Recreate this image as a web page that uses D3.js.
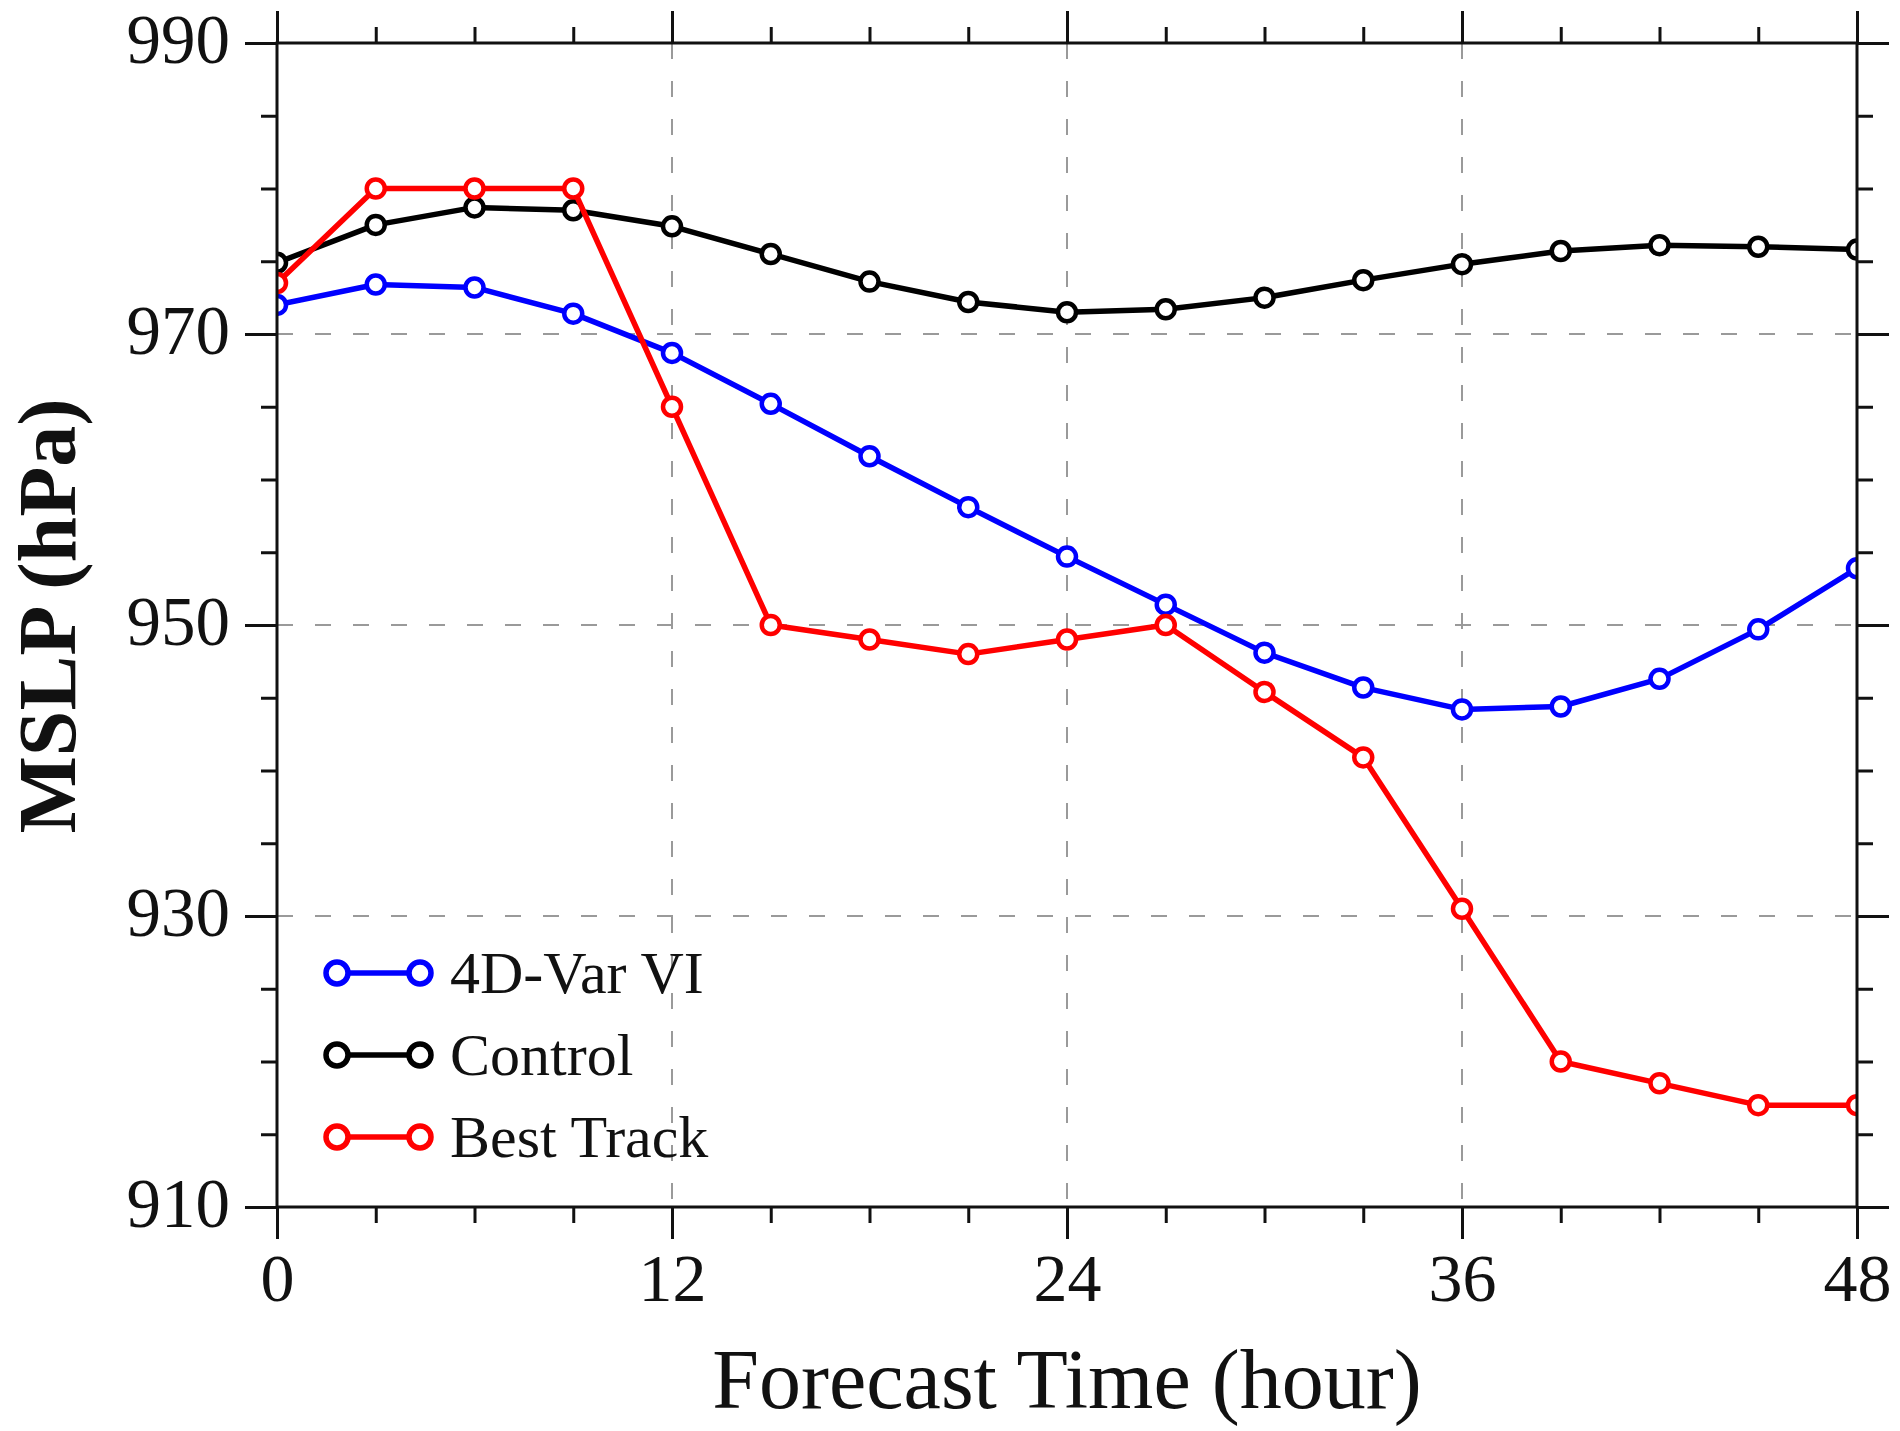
<!DOCTYPE html>
<html>
<head>
<meta charset="utf-8">
<script src="https://cdn.jsdelivr.net/npm/d3@7"></script>
<style>
    html, body { margin: 0; padding: 0; background: #fff; }
    svg { display: block; }
    text { font-family: "Liberation Serif", "Times New Roman", serif; fill: #111; }
</style>
</head>
<body>
<svg id="chart"></svg>
<script>
/**
 * Data.
 */
const hours = [0, 3, 6, 9, 12, 15, 18, 21, 24, 27, 30, 33, 36, 39, 42, 45, 48];

const vi4dvar = [972.0, 973.4, 973.2, 971.4, 968.7, 965.2, 961.6, 958.1, 954.7, 951.4, 948.1, 945.7, 944.2, 944.4, 946.3, 949.7, 953.9];
const control = [974.9, 977.5, 978.7, 978.5, 977.4, 975.5, 973.6, 972.2, 971.5, 971.7, 972.5, 973.7, 974.8, 975.7, 976.1, 976.0, 975.8];
const bestTrack = [973.5, 980, 980, 980, 965, 950, 949, 948, 949, 950, 945.4, 940.9, 930.5, 920, 918.5, 917, 917];

const seriesNames = ['4D-Var VI', 'Control', 'Best Track'];
const seriesColors = ['#0000ff', '#000000', '#ff0000'];

const xTicks = [0, 12, 24, 36, 48];
const yTicks = [910, 930, 950, 970, 990];

/**
 * Visual configs.
 */
const visWidth = 1900, visHeight = 1431;
const margin = { top: 43, right: 43, bottom: 224, left: 277 };
const width = visWidth - margin.left - margin.right,
    height = visHeight - margin.top - margin.bottom;

const svg = d3.select('#chart')
    .attr('width', visWidth)
    .attr('height', visHeight);

const g = svg.append('g')
    .attr('transform', 'translate(' + margin.left + ',' + margin.top + ')');

/**
 * Scales.
 */
const xScale = d3.scaleLinear().domain([0, 48]).range([0, width]);
const yScale = d3.scaleLinear().domain([910, 990]).range([height, 0]);

const series = [vi4dvar, control, bestTrack].map((values, i) => ({
    name: seriesNames[i],
    color: seriesColors[i],
    points: values.map((v, j) => ({ time: hours[j], value: v }))
}));

/**
 * Grid.
 */
const grid = g.append('g').attr('class', 'grid')
    .attr('stroke', '#9a9a9a')
    .attr('stroke-width', 2)
    .attr('stroke-dasharray', '16,22');

grid.selectAll('line.gx')
    .data(xTicks.slice(1, -1))
    .join('line')
    .attr('class', 'gx')
    .attr('x1', d => xScale(d)).attr('x2', d => xScale(d))
    .attr('y1', 0).attr('y2', height);

grid.selectAll('line.gy')
    .data(yTicks.slice(1, -1))
    .join('line')
    .attr('class', 'gy')
    .attr('x1', 0).attr('x2', width)
    .attr('y1', d => yScale(d)).attr('y2', d => yScale(d));

/**
 * Axes: major and minor ticks, outward on all four sides.
 */
const minorX = d3.range(0, 49, 3).filter(d => d % 12 !== 0);
const minorY = d3.range(910, 991, 5).filter(d => (d - 910) % 20 !== 0);

function styleAxis(sel) {
    sel.select('.domain').remove();
    sel.selectAll('line').attr('stroke', '#111').attr('stroke-width', 3);
    sel.selectAll('text').attr('font-size', 68).attr('fill', '#111')
        .attr('font-family', '"Liberation Serif", "Times New Roman", serif');
}

g.append('g')
    .attr('transform', 'translate(0,' + height + ')')
    .call(d3.axisBottom(xScale).tickValues(xTicks).tickSize(32).tickPadding(14).tickFormat(d3.format('d')))
    .call(styleAxis);
g.append('g')
    .attr('transform', 'translate(0,' + height + ')')
    .call(d3.axisBottom(xScale).tickValues(minorX).tickSize(16).tickFormat(''))
    .call(styleAxis);
g.append('g')
    .call(d3.axisTop(xScale).tickValues(xTicks).tickSize(32).tickFormat(''))
    .call(styleAxis);
g.append('g')
    .call(d3.axisTop(xScale).tickValues(minorX).tickSize(16).tickFormat(''))
    .call(styleAxis);

g.append('g')
    .call(d3.axisLeft(yScale).tickValues(yTicks).tickSize(32).tickPadding(15).tickFormat(d3.format('d')))
    .call(styleAxis)
    .selectAll('text').attr('font-size', 69).attr('dy', '0.28em');
g.append('g')
    .call(d3.axisLeft(yScale).tickValues(minorY).tickSize(16).tickFormat(''))
    .call(styleAxis);
g.append('g')
    .attr('transform', 'translate(' + width + ',0)')
    .call(d3.axisRight(yScale).tickValues(yTicks).tickSize(32).tickFormat(''))
    .call(styleAxis);
g.append('g')
    .attr('transform', 'translate(' + width + ',0)')
    .call(d3.axisRight(yScale).tickValues(minorY).tickSize(16).tickFormat(''))
    .call(styleAxis);

/**
 * Series lines and markers, clipped to the plot frame.
 */
g.append('clipPath').attr('id', 'plot-clip')
    .append('rect').attr('width', width).attr('height', height);

const line = d3.line()
    .x(d => xScale(d.time))
    .y(d => yScale(d.value));

const items = g.append('g').attr('clip-path', 'url(#plot-clip)');

const seriesG = items.selectAll('g.series')
    .data(series)
    .join('g')
    .attr('class', 'series');

seriesG.append('path')
    .attr('fill', 'none')
    .attr('stroke', d => d.color)
    .attr('stroke-width', 5.5)
    .attr('stroke-linejoin', 'round')
    .attr('d', d => line(d.points));

seriesG.selectAll('circle')
    .data(d => d.points.map(p => ({ p: p, color: d.color })))
    .join('circle')
    .attr('cx', d => xScale(d.p.time))
    .attr('cy', d => yScale(d.p.value))
    .attr('r', 9)
    .attr('fill', '#fff')
    .attr('stroke', d => d.color)
    .attr('stroke-width', 4.5);

/**
 * Frame.
 */
g.append('rect')
    .attr('width', width).attr('height', height)
    .attr('fill', 'none')
    .attr('stroke', '#111')
    .attr('stroke-width', 3);

/**
 * Legend.
 */
const legend = g.append('g')
    .attr('transform', 'translate(' + (337 - margin.left) + ',' + (973 - margin.top) + ')');

const legendItems = legend.selectAll('g')
    .data(series)
    .join('g')
    .attr('transform', (d, i) => 'translate(0,' + i * 82 + ')');

legendItems.append('line')
    .attr('x1', 0).attr('x2', 83)
    .attr('stroke', d => d.color)
    .attr('stroke-width', 5.5);

legendItems.selectAll('circle')
    .data(d => [0, 83].map(x => ({ x: x, color: d.color })))
    .join('circle')
    .attr('cx', d => d.x)
    .attr('r', 11)
    .attr('fill', '#fff')
    .attr('stroke', d => d.color)
    .attr('stroke-width', 5.5);

legendItems.append('text')
    .attr('x', 113)
    .attr('y', 20)
    .attr('font-size', 60)
    .text(d => d.name);

/**
 * Axis titles.
 */
svg.append('text')
    .attr('transform', 'translate(75,616) rotate(-90)')
    .attr('text-anchor', 'middle')
    .attr('font-size', 82)
    .attr('font-weight', 'bold')
    .text('MSLP (hPa)');

svg.append('text')
    .attr('x', margin.left + width / 2)
    .attr('y', 1408)
    .attr('text-anchor', 'middle')
    .attr('font-size', 84)
    .text('Forecast Time (hour)');
</script>
</body>
</html>
